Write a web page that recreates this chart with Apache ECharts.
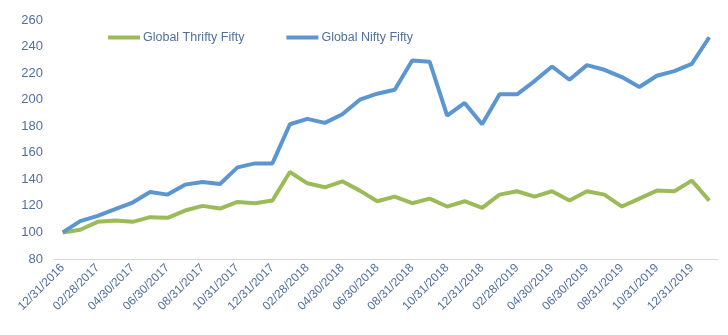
<!DOCTYPE html>
<html>
<head>
<meta charset="utf-8">
<script src="https://cdn.jsdelivr.net/npm/echarts@6/dist/echarts.min.js"></script>
<style>html,body{margin:0;padding:0;background:#fff}#c{width:728px;height:335px}</style>
</head>
<body>
<div id="c"></div>
<script>
var categories = [
  "12/31/2016","01/31/2017","02/28/2017","03/31/2017","04/30/2017","05/31/2017","06/30/2017","07/31/2017","08/31/2017","09/30/2017","10/31/2017","11/30/2017",
  "12/31/2017","01/31/2018","02/28/2018","03/31/2018","04/30/2018","05/31/2018","06/30/2018","07/31/2018","08/31/2018","09/30/2018","10/31/2018","11/30/2018",
  "12/31/2018","01/31/2019","02/28/2019","03/31/2019","04/30/2019","05/31/2019","06/30/2019","07/31/2019","08/31/2019","09/30/2019","10/31/2019","11/30/2019",
  "12/31/2019","01/31/2020"
];
var thrifty = [100,102,108,109,108,111.5,111,116.5,120,118,123,122,124,145.5,137,134,138.5,131.5,123.5,127,122,125.5,119.5,123.5,118.5,128.5,131,127,131,124,131,128.5,119.5,125.5,131.5,131,139,124];
var nifty = [100,108.5,112.5,117.5,122.5,130.5,128.5,136,138,136.5,149,152,152,181.5,185.5,182.5,189,200,204.5,207.5,229.5,228.5,188,197.5,181.5,204,204,214,225,215,226,222.5,217,209.5,218,221.5,227,247];
var seriesNames = ["Global Thrifty Fifty","Global Nifty Fifty"];
var yTicks = {min: 80, max: 260, interval: 20};

var textColor = "#52709e";
var chart = echarts.init(document.getElementById("c"));
chart.setOption({
  animation: false,
  textStyle: {fontFamily: "Liberation Sans, Arial, sans-serif"},
  legend: {
    left: 103, top: 26,
    itemWidth: 32, itemHeight: 4, itemGap: 42,
    icon: "rect",
    textStyle: {color: textColor, fontSize: 12.5, fontFamily: "Liberation Sans, Arial, sans-serif", padding: [0,0,0,-2]},
    data: seriesNames
  },
  grid: {left: 54, right: 10, top: 20, bottom: 76, containLabel: false},
  xAxis: {
    type: "category",
    data: categories,
    boundaryGap: true,
    axisLine: {lineStyle: {color: "#d9d9d9", width: 1}},
    axisTick: {show: false},
    axisLabel: {interval: 1, rotate: 45, color: textColor, fontSize: 12, margin: 7, fontFamily: "Liberation Sans, Arial, sans-serif"}
  },
  yAxis: {
    type: "value",
    min: yTicks.min, max: yTicks.max, interval: yTicks.interval,
    axisLine: {show: false},
    axisTick: {show: false},
    splitLine: {show: false},
    axisLabel: {color: textColor, fontSize: 13, margin: 11, fontFamily: "Liberation Sans, Arial, sans-serif"}
  },
  series: [
    {name: seriesNames[0], type: "line", data: thrifty, symbol: "none", lineStyle: {color: "#9bbb59", width: 4}, itemStyle: {color: "#9bbb59"}},
    {name: seriesNames[1], type: "line", data: nifty, symbol: "none", lineStyle: {color: "#5b96d0", width: 4}, itemStyle: {color: "#5b96d0"}}
  ]
});
</script>
</body>
</html>
